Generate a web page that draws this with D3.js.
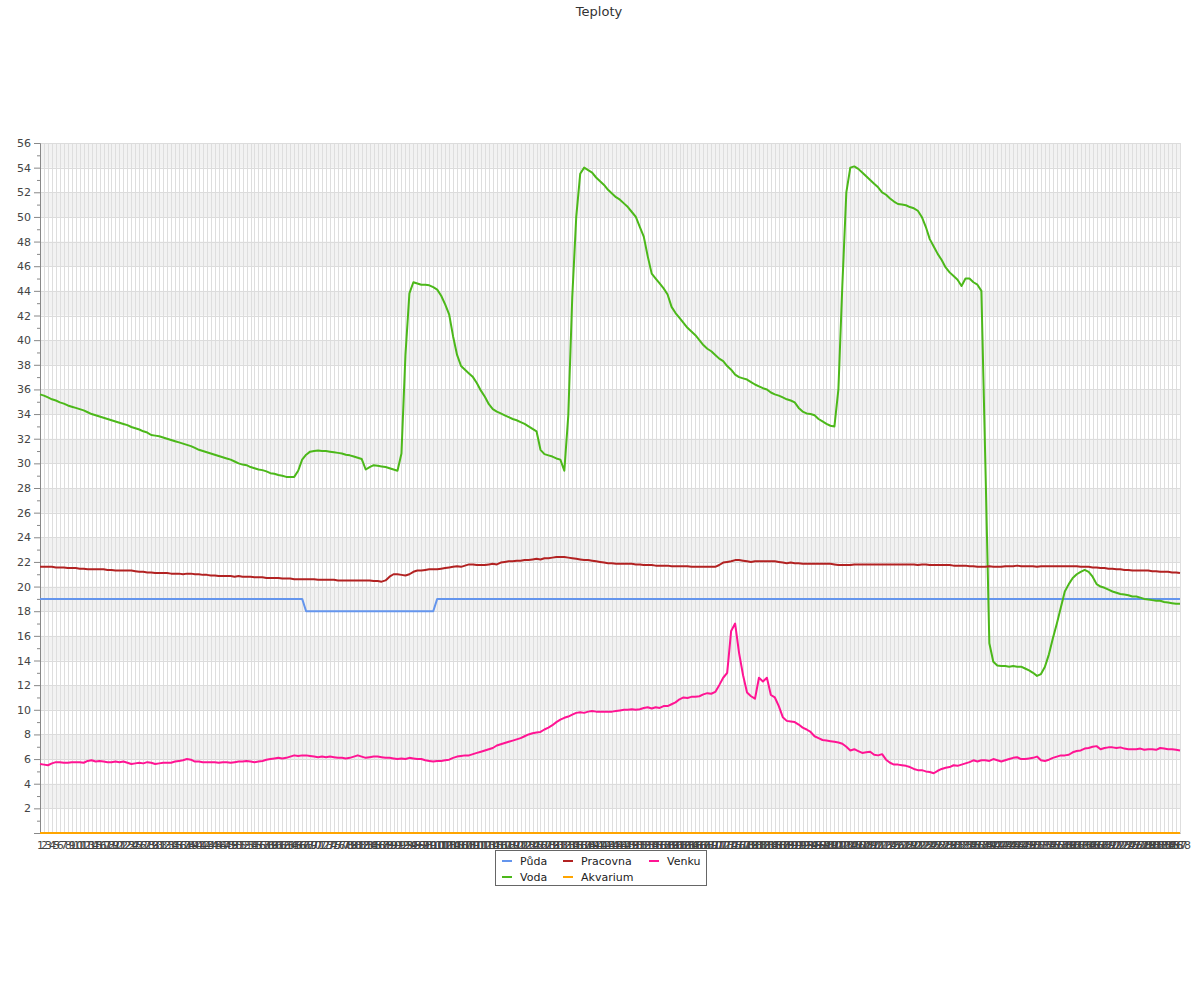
<!DOCTYPE html>
<html><head><meta charset="utf-8">
<script src="https://cdn.jsdelivr.net/npm/d3@7"></script>
<style>body{margin:0;background:#fff;} text{font-family:"DejaVu Sans",sans-serif;}</style>
</head><body><svg id="c" width="1200" height="1000"></svg>
<script>
const title = "Teploty";
const seriesNames = ["Půda", "Voda", "Pracovna", "Akvarium", "Venku"];
const seriesColors = ["#6495ED", "#4CB81A", "#B22222", "#FFA500", "#FF1493"];
const yMajorTicks = [2,4,6,8,10,12,14,16,18,20,22,24,26,28,30,32,34,36,38,40,42,44,46,48,50,52,54,56];
const yMinorTicks = [1,3,5,7,9,11,13,15,17,19,21,23,25,27,29,31,33,35,37,39,41,43,45,47,49,51,53,55];
const yBands = [[2,4],[6,8],[10,12],[14,16],[18,20],[22,24],[26,28],[30,32],[34,36],[38,40],[42,44],[46,48],[50,52],[54,56]];

const puda = [
19,19,19,19,19,19,19,19,19,19,
19,19,19,19,19,19,19,19,19,19,
19,19,19,19,19,19,19,19,19,19,
19,19,19,19,19,19,19,19,19,19,
19,19,19,19,19,19,19,19,19,19,
19,19,19,19,19,19,19,19,19,19,
19,19,19,19,19,19,19,18,18,18,
18,18,18,18,18,18,18,18,18,18,
18,18,18,18,18,18,18,18,18,18,
18,18,18,18,18,18,18,18,18,18,
19,19,19,19,19,19,19,19,19,19,
19,19,19,19,19,19,19,19,19,19,
19,19,19,19,19,19,19,19,19,19,
19,19,19,19,19,19,19,19,19,19,
19,19,19,19,19,19,19,19,19,19,
19,19,19,19,19,19,19,19,19,19,
19,19,19,19,19,19,19,19,19,19,
19,19,19,19,19,19,19,19,19,19,
19,19,19,19,19,19,19,19,19,19,
19,19,19,19,19,19,19,19,19,19,
19,19,19,19,19,19,19,19,19,19,
19,19,19,19,19,19,19,19,19,19,
19,19,19,19,19,19,19,19,19,19,
19,19,19,19,19,19,19,19,19,19,
19,19,19,19,19,19,19,19,19,19,
19,19,19,19,19,19,19,19,19,19,
19,19,19,19,19,19,19,19,19,19,
19,19,19,19,19,19,19,19,19,19,
19,19,19,19,19,19,19,19];

const voda = [
35.6,35.5,35.35,35.2,35.1,34.95,34.85,34.7,34.6,34.5,
34.4,34.3,34.15,34.0,33.9,33.8,33.7,33.6,33.5,33.4,
33.3,33.2,33.1,32.95,32.85,32.75,32.6,32.5,32.3,32.25,
32.2,32.1,32.0,31.9,31.8,31.7,31.6,31.5,31.4,31.25,
31.1,31.0,30.9,30.8,30.7,30.6,30.5,30.4,30.3,30.15,
30.0,29.9,29.85,29.7,29.6,29.5,29.45,29.35,29.2,29.15,
29.05,29.0,28.9,28.9,28.9,29.4,30.3,30.7,30.95,31.0,
31.05,31.0,31.0,30.95,30.9,30.85,30.8,30.7,30.65,30.55,
30.45,30.35,29.5,29.7,29.85,29.8,29.75,29.7,29.6,29.5,
29.4,30.8,38.8,43.8,44.7,44.6,44.5,44.5,44.45,44.3,
44.1,43.6,42.9,42.1,40.3,38.8,37.9,37.6,37.3,37.0,
36.5,35.9,35.4,34.8,34.4,34.2,34.05,33.9,33.75,33.6,
33.5,33.35,33.2,33.0,32.8,32.6,31.1,30.75,30.65,30.55,
30.4,30.3,29.4,33.9,43.5,50.0,53.5,54.0,53.8,53.6,
53.2,52.9,52.6,52.2,51.9,51.6,51.4,51.1,50.8,50.4,
50.0,49.2,48.4,46.8,45.4,45.0,44.6,44.2,43.7,42.7,
42.2,41.8,41.4,41.0,40.7,40.4,40.0,39.6,39.3,39.1,
38.8,38.5,38.3,37.9,37.6,37.2,37.0,36.9,36.8,36.6,
36.4,36.25,36.1,36.0,35.75,35.6,35.5,35.35,35.2,35.1,
34.95,34.5,34.2,34.05,34.0,33.9,33.6,33.4,33.2,33.05,
33.0,36.0,44.5,52.0,54.0,54.1,53.9,53.6,53.3,53.0,
52.7,52.4,52.0,51.8,51.5,51.25,51.05,51.0,50.95,50.8,
50.7,50.5,50.0,49.2,48.2,47.6,47.0,46.5,45.9,45.5,
45.2,44.9,44.4,45.0,45.0,44.7,44.5,44.0,30.0,15.4,
13.9,13.6,13.55,13.55,13.5,13.55,13.5,13.5,13.35,13.2,
13.0,12.75,12.9,13.5,14.5,15.8,17.0,18.3,19.6,20.2,
20.7,21.0,21.2,21.35,21.2,20.8,20.2,20.0,19.9,19.75,
19.6,19.5,19.4,19.35,19.3,19.2,19.2,19.1,19.0,18.95,
18.9,18.85,18.85,18.75,18.7,18.65,18.6,18.6];

const pracovna = [
21.6,21.6,21.6,21.6,21.55,21.55,21.55,21.5,21.5,21.5,
21.45,21.45,21.4,21.4,21.4,21.4,21.4,21.35,21.35,21.3,
21.3,21.3,21.3,21.3,21.25,21.2,21.2,21.15,21.15,21.1,
21.1,21.1,21.1,21.05,21.05,21.05,21.0,21.05,21.05,21.0,
21.0,20.95,20.95,20.9,20.9,20.85,20.85,20.85,20.85,20.8,
20.85,20.8,20.8,20.8,20.75,20.75,20.75,20.7,20.7,20.7,
20.7,20.65,20.65,20.65,20.6,20.6,20.6,20.6,20.6,20.6,
20.55,20.55,20.55,20.55,20.55,20.5,20.5,20.5,20.5,20.5,
20.5,20.5,20.5,20.5,20.45,20.45,20.4,20.5,20.8,21.0,
21.0,20.95,20.9,21.0,21.2,21.3,21.3,21.35,21.4,21.4,
21.4,21.45,21.5,21.55,21.6,21.65,21.6,21.7,21.8,21.8,
21.75,21.75,21.75,21.8,21.85,21.8,21.95,22.0,22.05,22.05,
22.1,22.1,22.15,22.15,22.2,22.25,22.2,22.3,22.3,22.35,
22.4,22.4,22.4,22.35,22.3,22.25,22.2,22.15,22.15,22.1,
22.05,22.0,21.95,21.9,21.9,21.85,21.85,21.85,21.85,21.85,
21.8,21.8,21.75,21.75,21.75,21.7,21.7,21.7,21.7,21.65,
21.65,21.65,21.65,21.65,21.6,21.6,21.6,21.6,21.6,21.6,
21.6,21.75,21.95,22.0,22.05,22.15,22.15,22.1,22.05,22.0,
22.05,22.05,22.05,22.05,22.05,22.05,22.0,21.95,21.9,21.95,
21.9,21.9,21.85,21.85,21.85,21.85,21.85,21.85,21.85,21.85,
21.8,21.75,21.75,21.75,21.75,21.8,21.8,21.8,21.8,21.8,
21.8,21.8,21.8,21.8,21.8,21.8,21.8,21.8,21.8,21.8,
21.8,21.75,21.8,21.8,21.75,21.75,21.75,21.75,21.75,21.75,
21.7,21.7,21.7,21.7,21.65,21.65,21.6,21.6,21.6,21.65,
21.6,21.6,21.6,21.65,21.65,21.65,21.7,21.65,21.65,21.65,
21.65,21.6,21.65,21.65,21.65,21.65,21.65,21.65,21.65,21.65,
21.65,21.65,21.6,21.6,21.6,21.55,21.55,21.5,21.5,21.45,
21.45,21.4,21.4,21.35,21.35,21.3,21.3,21.3,21.3,21.3,
21.25,21.25,21.2,21.2,21.2,21.15,21.15,21.1];

const akvarium = [
0,0,0,0,0,0,0,0,0,0, 0,0,0,0,0,0,0,0,0,0, 0,0,0,0,0,0,0,0,0,0,
0,0,0,0,0,0,0,0,0,0, 0,0,0,0,0,0,0,0,0,0, 0,0,0,0,0,0,0,0,0,0,
0,0,0,0,0,0,0,0,0,0, 0,0,0,0,0,0,0,0,0,0, 0,0,0,0,0,0,0,0,0,0,
0,0,0,0,0,0,0,0,0,0, 0,0,0,0,0,0,0,0,0,0, 0,0,0,0,0,0,0,0,0,0,
0,0,0,0,0,0,0,0,0,0, 0,0,0,0,0,0,0,0,0,0, 0,0,0,0,0,0,0,0,0,0,
0,0,0,0,0,0,0,0,0,0, 0,0,0,0,0,0,0,0,0,0, 0,0,0,0,0,0,0,0,0,0,
0,0,0,0,0,0,0,0,0,0, 0,0,0,0,0,0,0,0,0,0, 0,0,0,0,0,0,0,0,0,0,
0,0,0,0,0,0,0,0,0,0, 0,0,0,0,0,0,0,0,0,0, 0,0,0,0,0,0,0,0,0,0,
0,0,0,0,0,0,0,0,0,0, 0,0,0,0,0,0,0,0,0,0, 0,0,0,0,0,0,0,0,0,0,
0,0,0,0,0,0,0,0,0,0, 0,0,0,0,0,0,0,0];

const venku = [
5.6,5.55,5.5,5.65,5.75,5.75,5.7,5.7,5.75,5.75,
5.75,5.7,5.85,5.9,5.8,5.85,5.8,5.75,5.75,5.8,
5.75,5.8,5.7,5.6,5.65,5.7,5.65,5.75,5.7,5.6,
5.65,5.7,5.7,5.7,5.8,5.85,5.9,6.0,5.95,5.8,
5.8,5.75,5.75,5.75,5.75,5.7,5.75,5.75,5.7,5.75,
5.8,5.8,5.85,5.8,5.75,5.8,5.85,5.95,6.0,6.05,
6.1,6.05,6.1,6.2,6.3,6.25,6.3,6.3,6.25,6.2,
6.15,6.2,6.15,6.2,6.15,6.1,6.1,6.05,6.1,6.2,
6.3,6.2,6.1,6.15,6.2,6.2,6.15,6.1,6.1,6.05,
6.0,6.05,6.0,6.1,6.05,6.0,6.0,5.9,5.85,5.8,
5.85,5.85,5.9,5.95,6.1,6.2,6.25,6.3,6.3,6.4,
6.5,6.6,6.7,6.8,6.9,7.1,7.2,7.3,7.4,7.5,
7.6,7.7,7.85,8.0,8.1,8.15,8.2,8.4,8.55,8.75,
9.0,9.2,9.35,9.45,9.6,9.75,9.8,9.75,9.85,9.9,
9.85,9.85,9.85,9.85,9.85,9.9,9.95,10.0,10.0,10.05,
10.0,10.05,10.15,10.2,10.1,10.2,10.15,10.3,10.3,10.45,
10.6,10.85,11.0,10.95,11.05,11.05,11.1,11.25,11.35,11.3,
11.45,12.0,12.6,13.0,16.4,17.0,14.6,12.8,11.4,11.1,
10.9,12.6,12.3,12.6,11.2,11.0,10.3,9.4,9.1,9.05,
9.0,8.8,8.55,8.4,8.2,7.85,7.7,7.55,7.5,7.45,
7.4,7.35,7.25,7.0,6.7,6.8,6.65,6.5,6.55,6.6,
6.35,6.3,6.4,5.95,5.7,5.55,5.55,5.5,5.45,5.35,
5.2,5.1,5.1,5.0,4.95,4.85,5.05,5.2,5.3,5.35,
5.5,5.45,5.55,5.65,5.75,5.9,5.8,5.9,5.9,5.85,
6.0,5.9,5.8,5.9,6.0,6.1,6.15,6.0,6.0,6.05,
6.1,6.2,5.9,5.85,5.95,6.1,6.2,6.3,6.3,6.35,
6.55,6.65,6.7,6.85,6.9,7.0,7.05,6.8,6.9,6.95,
6.95,6.9,6.95,6.85,6.8,6.8,6.8,6.85,6.75,6.8,
6.8,6.75,6.9,6.85,6.8,6.8,6.75,6.7];

const categories = d3.range(1, voda.length + 1).map(String);
const seriesValues = [puda, voda, pracovna, akvarium, venku];

const svg = d3.select("#c");
const plotLeft = 40, plotRight = 1180, plotTop = 143, plotBottom = 833;
const x = d3.scalePoint().domain(categories).range([plotLeft, plotRight]);
const y = d3.scaleLinear().domain([0, 56]).range([plotBottom, plotTop]);

svg.append("text").attr("x", 599).attr("y", 16).attr("text-anchor", "middle")
  .attr("font-size", 13).attr("fill", "#333").text(title);

// bands
svg.append("g").selectAll("rect").data(yBands).join("rect")
  .attr("x", plotLeft).attr("width", plotRight - plotLeft)
  .attr("y", d => y(d[1])).attr("height", d => y(d[0]) - y(d[1]))
  .attr("fill", "#f2f2f2");

// vertical grid
svg.append("g").selectAll("line").data(categories).join("line")
  .attr("x1", d => Math.round(x(d)) + 0.5).attr("x2", d => Math.round(x(d)) + 0.5)
  .attr("y1", plotTop).attr("y2", plotBottom)
  .attr("stroke", "#dedede").attr("stroke-width", 1);

// horizontal grid
svg.append("g").selectAll("line").data(yMajorTicks).join("line")
  .attr("x1", plotLeft).attr("x2", plotRight)
  .attr("y1", d => Math.round(y(d)) + 0.5).attr("y2", d => Math.round(y(d)) + 0.5)
  .attr("stroke", "#dcdcdc").attr("stroke-width", 1);

// y axis
const yAxis = svg.append("g").attr("transform", `translate(${plotLeft},0)`)
  .call(d3.axisLeft(y).tickValues(yMajorTicks).tickSize(6).tickPadding(3));
yAxis.selectAll("text").attr("font-size", 11).attr("fill", "#444").attr("font-family", "DejaVu Sans");
yAxis.selectAll("line").attr("stroke", "#888");
yAxis.select(".domain").attr("stroke", "#888");
const yMinor = svg.append("g").attr("transform", `translate(${plotLeft},0)`)
  .call(d3.axisLeft(y).tickValues(yMinorTicks).tickSize(3).tickFormat(""));
yMinor.select(".domain").remove();
yMinor.selectAll("line").attr("stroke", "#888");

// x axis
const xAxis = svg.append("g").attr("transform", `translate(0,${plotBottom})`)
  .call(d3.axisBottom(x).tickSize(0).tickPadding(8));
xAxis.selectAll("text").attr("font-size", 11).attr("fill", "#444").attr("font-family", "DejaVu Sans");
xAxis.select(".domain").attr("stroke", "#888");

// lines
const line = d3.line().x((d, i) => x(categories[i])).y(d => y(d));
svg.append("g").selectAll("path").data(seriesValues).join("path")
  .attr("d", d => line(d)).attr("fill", "none")
  .attr("stroke", (d, i) => seriesColors[i]).attr("stroke-width", 2)
  .attr("stroke-linejoin", "round");

// legend
const lg = svg.append("g");
lg.append("rect").attr("x", 495.5).attr("y", 850.5).attr("width", 211).attr("height", 35)
  .attr("fill", "#fff").attr("stroke", "#666").attr("stroke-width", 1);
const legendPos = [[502, 861], [502, 877], [563, 861], [563, 877], [649, 861]];
seriesNames.forEach((name, i) => {
  const [lx, ly] = legendPos[i];
  lg.append("line").attr("x1", lx).attr("x2", lx + 10).attr("y1", ly).attr("y2", ly)
    .attr("stroke", seriesColors[i]).attr("stroke-width", 2);
  lg.append("text").attr("x", lx + 18).attr("y", ly + 4).attr("font-size", 11)
    .attr("fill", "#222").text(name);
});
</script></body></html>
